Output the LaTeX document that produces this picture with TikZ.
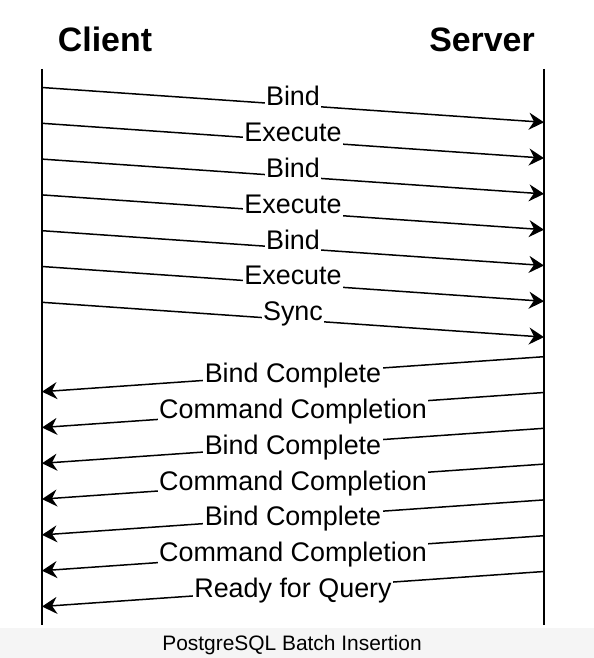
\documentclass[tikz,border=0pt]{standalone}
\usepackage{fontspec}
\setmainfont{Liberation Sans}
\usetikzlibrary{arrows.meta}

\begin{document}
\begin{tikzpicture}[x=1bp, y=-1bp,
  life/.style={line width=1.5bp},
  msg/.style={line width=1.5bp, -{Stealth[length=15bp, width=17bp, inset=5bp]}},
  lblr/.style={fill=white, inner sep=1.5bp, anchor=base, yshift=-1bp, text depth=0.25em, font=\fontsize{27}{32}\selectfont},
  lbll/.style={lblr, yshift=-7.5bp},
  title/.style={anchor=base, font=\fontsize{34}{40}\selectfont\bfseries}]
\useasboundingbox (0,0) rectangle (594,658);
\fill[black!4] (0,628) rectangle (594,658);
\node[title] (client) at (105,52) {Client};
\node[title] (server) at (482,52) {Server};
\coordinate (ctop) at (42,69);
\coordinate (cbot) at (42,625);
\coordinate (stop) at (544,69);
\coordinate (sbot) at (544,625);
\draw[life] (ctop) -- (cbot);
\draw[life] (stop) -- (sbot);
\foreach \i in {0,...,6} {
  \coordinate (c\i) at (42,{87.5+35.8*\i});
  \coordinate (s\i) at (544,{122.3+35.8*\i});
  \coordinate (r\i) at (544,{356.7+35.8*\i});
  \coordinate (l\i) at (42,{391.7+35.8*\i});
}
\draw[msg] (c0) -- node[lblr] {Bind} (s0);
\draw[msg] (c1) -- node[lblr] {Execute} (s1);
\draw[msg] (c2) -- node[lblr] {Bind} (s2);
\draw[msg] (c3) -- node[lblr] {Execute} (s3);
\draw[msg] (c4) -- node[lblr] {Bind} (s4);
\draw[msg] (c5) -- node[lblr] {Execute} (s5);
\draw[msg] (c6) -- node[lblr] {Sync} (s6);
\draw[msg] (r0) -- node[lbll] {Bind Complete} (l0);
\draw[msg] (r1) -- node[lbll] {Command Completion} (l1);
\draw[msg] (r2) -- node[lbll] {Bind Complete} (l2);
\draw[msg] (r3) -- node[lbll] {Command Completion} (l3);
\draw[msg] (r4) -- node[lbll] {Bind Complete} (l4);
\draw[msg] (r5) -- node[lbll] {Command Completion} (l5);
\draw[msg] (r6) -- node[lbll] {Ready for Query} (l6);
\node[anchor=base, font=\fontsize{21}{25}\selectfont] (caption) at (292,650) {PostgreSQL Batch Insertion};
\end{tikzpicture}
\end{document}
